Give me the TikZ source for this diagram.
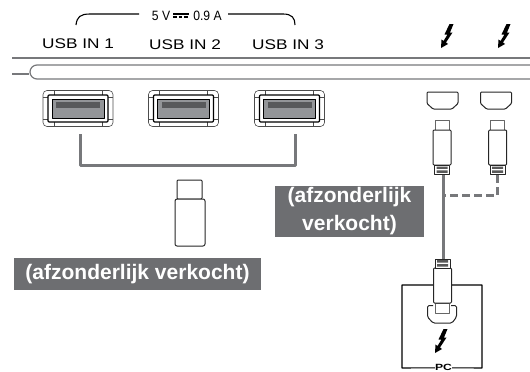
\documentclass[tikz,border=0pt]{standalone}
\usepackage{fontspec}
\setmainfont{Liberation Sans}
\usetikzlibrary{positioning,calc}
\definecolor{labelgray}{HTML}{6D6E71}
\definecolor{portgray}{HTML}{939598}
\definecolor{stripgray}{HTML}{58595B}
\definecolor{linegray}{HTML}{77787B}

\begin{document}
\begin{tikzpicture}[
  x=1pt,
  y=-1pt,
  line join=round,
  portlbl/.style={font=\fontsize{14}{16}\selectfont, inner sep=0pt, xscale=1.23, transform shape},
  ratelbl/.style={font=\fontsize{13.5}{16}\selectfont, inner sep=0pt, xscale=.9, transform shape},
  soldlbl/.style={
    fill=labelgray,
    text=white,
    font=\fontsize{21}{28}\bfseries\selectfont,
    align=center,
    inner sep=0pt
  },
  panel/.style={draw=linegray, line width=2pt},
  outline/.style={draw=black!85, line width=1pt},
  cable/.style={draw=linegray, line width=3pt},
  bolt/.pic={
    \fill[black] (2,-12) -- (6,-12) -- (2.5,-3.5) -- (5,-3.5) -- (-1.5,6.5) -- (0.5,8) -- (-6.5,12)
      -- (-6,3.5) -- (-4,5) -- (0,-1.5) -- (-3,-1.5) -- cycle;
  },
  usbport/.pic={
    \draw[black!70, line width=0.6pt, rounded corners=4pt] (-35,-18) rectangle (35,18);
    \draw[black!70, line width=0.6pt] (-35,-11) -- (-30,-11) (30,-11) -- (35,-11)
      (-35,11) -- (-30,11) (30,11) -- (35,11) (-24,-18) -- (-24,-13.5) (24,-18) -- (24,-13.5)
      (-24,18) -- (-24,13.5) (24,18) -- (24,13.5);
    \draw[black, line width=1.2pt, fill=white, rounded corners=1pt] (-30,-13.5) rectangle (30,13.5);
    \fill[portgray, draw=black, line width=0.8pt] (-26,-9.5) rectangle (26,9.5);
    \fill[stripgray] (-22,-6.5) rectangle (22,-0.8);
  },
  plugdev/.pic={
    \draw[outline, draw=black!60, fill=white] (-7,-23) rectangle (7,-13);
    \draw[outline, fill=white, rounded corners=1pt] (-9,-13) rectangle (9,22);
    \draw[outline, fill=white] (-7.5,22) rectangle (7.5,31);
    \fill[black!65] (-5.5,23.5) rectangle (5.5,25.8) (-5.5,27.4) rectangle (5.5,29.8);
  },
  socketshape/.pic={
    \draw[outline, fill=white, rounded corners=1pt] (-15.5,-8.5) -- (15.5,-8.5) -- (15.5,3) -- (9.5,8.5)
      -- (-9.5,8.5) -- (-15.5,3) -- cycle;
  }
]
\useasboundingbox (0,0) rectangle (530,372);

% top labels
\node[ratelbl] (volt) at (161,15.5) {5 V};
\node[ratelbl] (amp) at (207.5,15.5) {0.9 A};
\draw[black, line width=1.2pt] (volt.east) ++(3,-1.5) -- ++(15.5,0);
\draw[black, line width=1.2pt, dash pattern=on 3.5pt off 2pt] (volt.east) ++(3,1.5) -- ++(15.5,0);
\coordinate (bl) at (76,25);
\coordinate (br) at (295,25);
\draw[black, line width=1.1pt] (bl) .. controls (77,17) and (80,14) .. (90,14) -- (139,14);
\draw[black, line width=1.1pt] (br) .. controls (295,18) and (292,14) .. (283,14) -- (228,14);
\node[portlbl] (in1) at (78,44) {USB IN 1};
\node[portlbl] (in2) at (185,45) {USB IN 2};
\node[portlbl] (in3) at (288,45) {USB IN 3};

\pic at (447.5,36) {bolt};
\pic at (504.5,36) {bolt};

% panel
\draw[panel] (12,58) -- (530,58);
\draw[draw=linegray, line width=1.2pt] (12,74) -- (29,74);
\draw[draw=linegray, line width=1.2pt] (530,65) -- (37,65) arc[start angle=-90, end angle=-270, radius=7] -- (530,79);

% usb side
\pic at (78,108.5) {usbport};
\pic at (183.5,108.5) {usbport};
\pic at (289.5,108.5) {usbport};
\coordinate (p1) at (80.5,134);
\coordinate (p3) at (295,134);
\draw[cable] (p1) -- (80.5,165) -- (295,165) -- (p3);
\draw[outline, fill=white, rounded corners=1pt] (177,180) rectangle (202,199);
\draw[outline, fill=white, rounded corners=2pt] (175,199) rectangle (205,246);
\node[soldlbl, minimum width=247pt, minimum height=32pt] (sold1) at (137.5,274) {(afzonderlijk verkocht)};

% thunderbolt side
\pic at (442.5,100.5) {socketshape};
\pic at (496,100.5) {socketshape};
\coordinate (c1) at (443,175);
\coordinate (c2) at (497.5,175);
\coordinate (c3) at (443,259);
\draw[cable, dash pattern=on 8pt off 4pt] (c2) -- (497.5,195) -- (c1 |- 0,195);
\draw[cable] (c1) -- (c3);
\pic at (442,143) {plugdev};
\pic at (497.7,143) {plugdev};

\node[soldlbl, minimum width=149pt, minimum height=51pt] (sold2) at (349.5,211.5) {(afzonderlijk\\verkocht)};

% pc
\node[inner sep=0pt, font=\fontsize{9}{10}\bfseries\selectfont, xscale=1.35, transform shape] (pc) at (443.5,367.8) {PC};
\draw[black, line width=1.1pt] (433,285) -- (402,285) -- (402,368) -- (pc.west);
\draw[black, line width=1.1pt] (451,285) -- (482,285) -- (482,368) -- (pc.east);
\draw[outline, rounded corners=1.5pt] (433,305.5) -- (427.5,305.5) -- (427.5,317) -- (433,323) -- (452,323) -- (456.5,317) -- (456.5,305.5) -- (451,305.5);
\pic at (442.5,290) [rotate=180] {plugdev};
\pic at (441.5,341) {bolt};
\end{tikzpicture}
\end{document}
